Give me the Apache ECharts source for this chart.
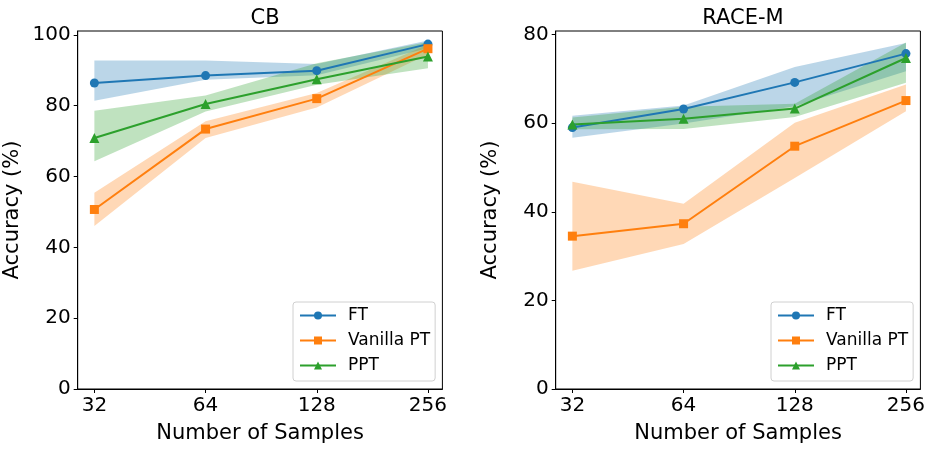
<!DOCTYPE html>
<html>
<head>
<meta charset="utf-8">
<script src="https://cdn.jsdelivr.net/npm/echarts@6/dist/echarts.min.js"></script>
<style>html,body{margin:0;padding:0;background:#fff}#c{width:930px;height:449px}</style>
</head>
<body>
<div id="c"></div>
<script>
// ---- data ----
const samples = [32, 64, 128, 256];
const xTickLabels = ['32', '64', '128', '256'];
const seriesNames = ['FT', 'Vanilla PT', 'PPT'];
const panelTitles = ['CB', 'RACE-M'];
const cbYTicks = [0, 20, 40, 60, 80, 100];
const raceYTicks = [0, 20, 40, 60, 80];

const cbFT = [86.4, 88.5, 89.9, 97.4];
const cbFTLo = [81.4, 87.3, 88.6, 96.2];
const cbFTHi = [92.8, 92.8, 91.8, 98.4];
const cbVPT = [50.7, 73.4, 82.0, 96.1];
const cbVPTLo = [46.0, 70.9, 79.5, 94.5];
const cbVPTHi = [55.4, 75.6, 83.6, 97.3];
const cbPPT = [70.9, 80.5, 87.5, 93.9];
const cbPPTLo = [64.3, 78.4, 85.9, 90.6];
const cbPPTHi = [78.6, 82.9, 92.0, 98.0];

const raceFT = [59.0, 63.2, 69.2, 75.7];
const raceFTLo = [56.7, 59.9, 63.8, 71.7];
const raceFTHi = [61.7, 64.0, 72.7, 78.1];
const raceVPT = [34.5, 37.3, 54.8, 65.1];
const raceVPTLo = [26.7, 32.7, 47.6, 62.7];
const raceVPTHi = [46.8, 41.8, 60.1, 68.7];
const racePPT = [59.7, 61.0, 63.3, 74.7];
const racePPTLo = [58.6, 58.7, 61.4, 69.1];
const racePPTHi = [61.3, 63.7, 64.4, 78.2];

// ---- styles ----
const colors = ['#1f77b4', '#ff7f0e', '#2ca02c'];
const symbols = ['circle', 'rect', 'triangle'];
const symbolSizes = [9, 9, 10];
const FONT = 'DejaVu Sans';

const lx = samples.map(s => Math.log2(s));
const pairs = arr => arr.map((v, i) => [lx[i], v]);

const panels = [
  { mid: [cbFT, cbVPT, cbPPT], lo: [cbFTLo, cbVPTLo, cbPPTLo], hi: [cbFTHi, cbVPTHi, cbPPTHi], yTicks: cbYTicks, yMax: 101.1 },
  { mid: [raceFT, raceVPT, racePPT], lo: [raceFTLo, raceVPTLo, racePPTLo], hi: [raceFTHi, raceVPTHi, racePPTHi], yTicks: raceYTicks, yMax: 80.8 }
];
const grids = [
  { left: 77.7, top: 31, width: 364.7, height: 359.4 },
  { left: 555.7, top: 31, width: 364.7, height: 359.4 }
];

function bandRenderer(color) {
  return function (params, api) {
    if (params.dataIndexInside !== 0) return null;
    const n = params.dataInsideLength;
    const top = [], bot = [];
    for (let i = 0; i < n; i++) {
      const x = api.value(0, i);
      top.push(api.coord([x, api.value(2, i)]));
      bot.push(api.coord([x, api.value(1, i)]));
    }
    const pts = top.concat(bot.reverse());
    return {
      type: 'polygon',
      shape: { points: pts },
      style: { fill: color, opacity: 0.3 },
      silent: true
    };
  };
}

const series = [];
panels.forEach((p, gi) => {
  for (let k = 0; k < 3; k++) {
    series.push({
      type: 'custom', name: 'band' + gi + k, xAxisIndex: gi, yAxisIndex: gi,
      data: p.lo[k].map((v, i) => [lx[i], v, p.hi[k][i]]),
      encode: { x: 0, y: [1, 2] },
      renderItem: bandRenderer(colors[k]), silent: true, z: 1
    });
  }
  for (let k = 0; k < 3; k++) {
    series.push({
      type: 'line', name: seriesNames[k], xAxisIndex: gi, yAxisIndex: gi,
      data: pairs(p.mid[k]), symbol: symbols[k], symbolSize: symbolSizes[k],
      color: colors[k], lineStyle: { width: 2, color: colors[k] },
      itemStyle: { color: colors[k] }, z: 3
    });
  }
});

const axisCommon = {
  axisLine: { show: true, onZero: false, lineStyle: { color: '#000', width: 1 } },
  axisTick: { show: true, length: 4, lineStyle: { color: '#000', width: 1 } },
  splitLine: { show: false },
  axisLabel: { color: '#000', fontFamily: FONT, fontSize: 20, margin: 7 },
  nameTextStyle: { color: '#000', fontFamily: FONT, fontSize: 21 }
};

const xAxes = [0, 1].map(gi => ({
  ...axisCommon, type: 'value', gridIndex: gi, min: 4.85, max: 8.13,
  name: 'Number of Samples', nameLocation: 'middle', nameGap: 34,
  axisTick: { ...axisCommon.axisTick, customValues: lx },
  axisLabel: { ...axisCommon.axisLabel, customValues: lx, formatter: v => xTickLabels[lx.indexOf(v)] }
}));
const yAxes = [0, 1].map(gi => ({
  ...axisCommon, type: 'value', gridIndex: gi, min: 0, max: panels[gi].yMax,
  name: 'Accuracy (%)', nameLocation: 'middle', nameGap: 55, nameRotate: 90,
  axisTick: { ...axisCommon.axisTick, customValues: panels[gi].yTicks },
  axisLabel: { ...axisCommon.axisLabel, customValues: panels[gi].yTicks }
}));

const legendCommon = {
  orient: 'vertical', data: seriesNames, itemWidth: 36, itemHeight: 10, itemGap: 8,
  padding: [5, 5, 7, 6], borderColor: '#d0d0d0', borderWidth: 1, borderRadius: 3,
  backgroundColor: 'rgba(255,255,255,0.8)', selectedMode: false,
  textStyle: { fontFamily: FONT, fontSize: 17, color: '#000', padding: [0, 0, 0, 7] }
};

const chart = echarts.init(document.getElementById('c'), null, { renderer: 'canvas' });
chart.setOption({
  animation: false,
  backgroundColor: '#fff',
  title: [0, 1].map(gi => ({
    text: panelTitles[gi], left: grids[gi].left + grids[gi].width / 2, top: 3, textAlign: 'center',
    textStyle: { fontFamily: FONT, fontSize: 21, fontWeight: 'normal', color: '#000' }
  })),
  grid: grids.map(g => ({ ...g, show: true, borderColor: '#000', borderWidth: 1, backgroundColor: 'transparent' })),
  xAxis: xAxes,
  yAxis: yAxes,
  legend: [
    { ...legendCommon, left: 293, top: 302 },
    { ...legendCommon, left: 771, top: 302 }
  ],
  series: series
});
</script>
</body>
</html>
